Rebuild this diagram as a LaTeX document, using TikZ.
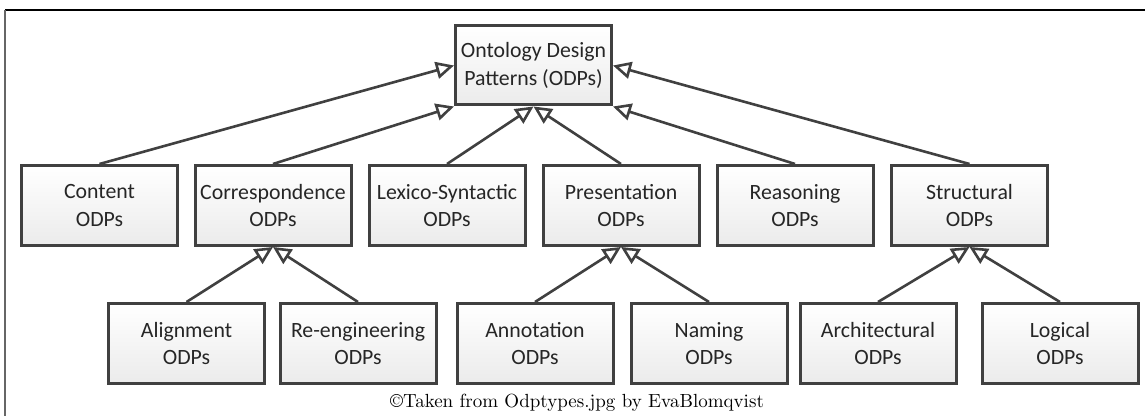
\documentclass[tikz,border=0pt]{standalone}
\usepackage{fontspec}
\newfontfamily\boxfont{Carlito}
\usetikzlibrary{arrows.meta,shadows}
\definecolor{edgegray}{HTML}{404040}
\definecolor{boxbottom}{HTML}{EBEBEB}
\tikzset{
  odp/.style={draw=edgegray, line width=1.5pt, top color=white, bottom color=boxbottom,
    minimum width=78pt, minimum height=40pt, align=center, inner sep=0pt,
    font=\boxfont\fontsize{10.9}{13.6}\selectfont, text=black!85,
    drop shadow={shadow xshift=0.6pt, shadow yshift=-0.6pt, opacity=0.25, fill=black}},
  gen/.style={draw=edgegray, line width=1.3pt,
    -{Triangle[open, length=9pt, width=8.5pt, line width=1.3pt]}},
}
\begin{document}
\begin{tikzpicture}[x=0.5pt,y=-0.5pt]
\useasboundingbox (0,0) rectangle (1145,416);
% frame (cropped)
\draw[line width=1pt, black] (5,10) -- (1145,10);
\draw[line width=1.2pt, black!60] (5,10) -- (5,416);
% nodes
\node[odp, minimum height=39.5pt] (odp) at (533.5,65.5) {Ontology Design\\Patterns (ODPs)};
\node[odp] (content) at (99.5,205.5) {Content\\ODPs};
\node[odp] (corr) at (273,205.5) {Correspondence\\ODPs};
\node[odp] (lex) at (447,205.5) {Lexico-Syntactic\\ODPs};
\node[odp] (pres) at (621,205.5) {Presentation\\ODPs};
\node[odp] (reas) at (795,205.5) {Reasoning\\ODPs};
\node[odp] (struct) at (969.5,205.5) {Structural\\ODPs};
\node[odp] (align) at (186.5,343.5) {Alignment\\ODPs};
\node[odp] (reeng) at (358,343.5) {Re-engineering\\ODPs};
\node[odp] (annot) at (535,343.5) {Annotation\\ODPs};
\node[odp] (naming) at (709,343.5) {Naming\\ODPs};
\node[odp] (arch) at (878,343.5) {Architectural\\ODPs};
\node[odp] (logic) at (1060,343.5) {Logical\\ODPs};
% connectors
\draw[gen] (content.north) -- (odp.west);
\draw[gen] (corr.north) -- (odp.south west);
\draw[gen] (lex.north) -- (odp.south);
\draw[gen] (pres.north) -- (odp.south);
\draw[gen] (reas.north) -- (odp.south east);
\draw[gen] (struct.north) -- (odp.east);
\draw[gen] (align.north) -- (corr.south);
\draw[gen] (reeng.north) -- (corr.south);
\draw[gen] (annot.north) -- (pres.south);
\draw[gen] (naming.north) -- (pres.south);
\draw[gen] (arch.north) -- (struct.south);
\draw[gen] (logic.north) -- (struct.south);
% caption
\node[font=\fontsize{9.5}{11}\selectfont, anchor=base] (cap) at (577,408) {\copyright Taken from Odptypes.jpg by EvaBlomqvist};
\end{tikzpicture}
\end{document}
